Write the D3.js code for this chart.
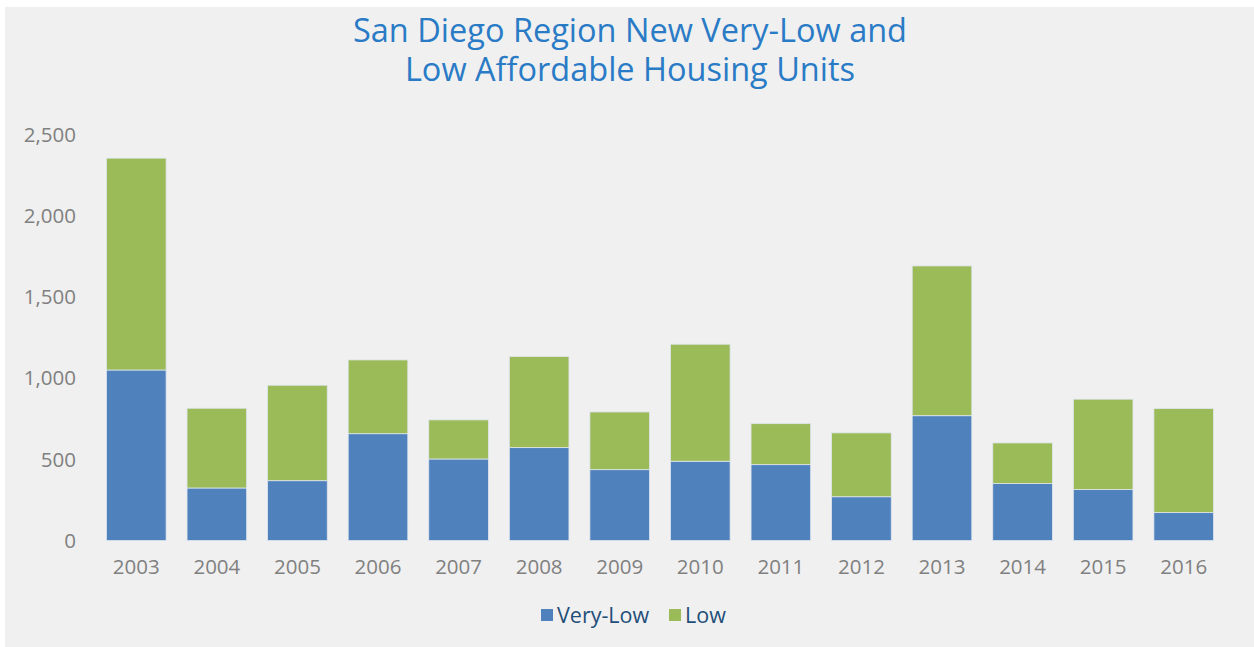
<!DOCTYPE html>
<html>
<head>
<meta charset="utf-8">
<script src="https://cdn.jsdelivr.net/npm/d3@7"></script>
<style>
	body { margin: 0; background: #ffffff; }
	svg { display: block; font-family: "Open Sans", "Noto Sans", sans-serif; }
</style>
</head>
<body>
<div id="chart"></div>
<script>
// Data
var years = ["2003", "2004", "2005", "2006", "2007", "2008", "2009", "2010", "2011", "2012", "2013", "2014", "2015", "2016"];
var veryLow = [1052, 324, 369, 659, 503, 573, 437, 489, 468, 270, 770, 351, 314, 172];
var low = [1307, 492, 589, 455, 241, 562, 356, 722, 253, 394, 924, 251, 558, 642];
var yTicks = [0, 500, 1000, 1500, 2000, 2500];
var seriesNames = ["Very-Low", "Low"];
var seriesColors = ["#4f81bd", "#9bbb59"];
var titleLines = ["San Diego Region New Very-Low and", "Low Affordable Housing Units"];

var width = 1254, height = 647;

var svg = d3.select("#chart").append("svg")
	.attr("width", width)
	.attr("height", height);

// grey panel
svg.append("rect")
	.attr("x", 5).attr("y", 7)
	.attr("width", width - 5).attr("height", height - 7)
	.attr("fill", "#f0f0f0");

// title
svg.append("text")
	.attr("text-anchor", "middle")
	.attr("fill", "#2a7bc6")
	.style("font-size", "32.5px")
	.selectAll("tspan")
	.data(titleLines)
	.enter()
	.append("tspan")
	.attr("x", 630)
	.attr("y", function(d, i) { return 42 + i * 39; })
	.text(function(d) { return d; });

// scales
var xScale = d3.scaleBand().domain(years).range([96, 1224]).paddingInner(0.26).paddingOuter(0.13);
var yScale = d3.scaleLinear().domain([0, 2500]).range([540.5, 135.3]);

// stack the two series
var table = years.map(function(y, i) { return { year: y, "Very-Low": veryLow[i], "Low": low[i] }; });
var stacked = d3.stack().keys(seriesNames)(table);

svg.append("g")
	.selectAll("g")
	.data(stacked)
	.enter()
	.append("g")
	.attr("fill", function(d, i) { return seriesColors[i]; })
	.selectAll("rect")
	.data(function(d) { return d; })
	.enter()
	.append("rect")
	.attr("x", function(d) { return xScale(d.data.year); })
	.attr("width", xScale.bandwidth())
	.attr("y", function(d) { return yScale(d[1]); })
	.attr("height", function(d) { return yScale(d[0]) - yScale(d[1]); })
	.attr("stroke", "#dfe5ee")
	.attr("stroke-width", 0.8);

// y axis
var yAxis = d3.axisLeft(yScale).tickValues(yTicks).tickSize(0).tickPadding(0).tickFormat(d3.format(","));
var yG = svg.append("g")
	.attr("transform", "translate(76,0)")
	.call(yAxis);
yG.select(".domain").remove();
yG.selectAll("text")
	.attr("fill", "#808080")
	.style("font-size", "20.5px")
	.style("font-family", "'Open Sans', 'Noto Sans', sans-serif");

// x axis
var xAxis = d3.axisBottom(xScale).tickSize(0).tickPadding(19);
var xG = svg.append("g")
	.attr("transform", "translate(0,540.5)")
	.call(xAxis);
xG.select(".domain").remove();
xG.selectAll("text")
	.attr("fill", "#808080")
	.style("font-size", "20.5px")
	.style("font-family", "'Open Sans', 'Noto Sans', sans-serif");

// legend
var legendX = [541, 669];
var legend = svg.append("g")
	.selectAll("g")
	.data(seriesNames)
	.enter()
	.append("g")
	.attr("transform", function(d, i) { return "translate(" + legendX[i] + ",609)"; });
legend.append("rect")
	.attr("width", 12).attr("height", 12)
	.attr("fill", function(d, i) { return seriesColors[i]; });
legend.append("text")
	.attr("x", 16)
	.attr("y", 13.5)
	.attr("fill", "#1f4e79")
	.style("font-size", "21.5px")
	.text(function(d) { return d; });
</script>
</body>
</html>
